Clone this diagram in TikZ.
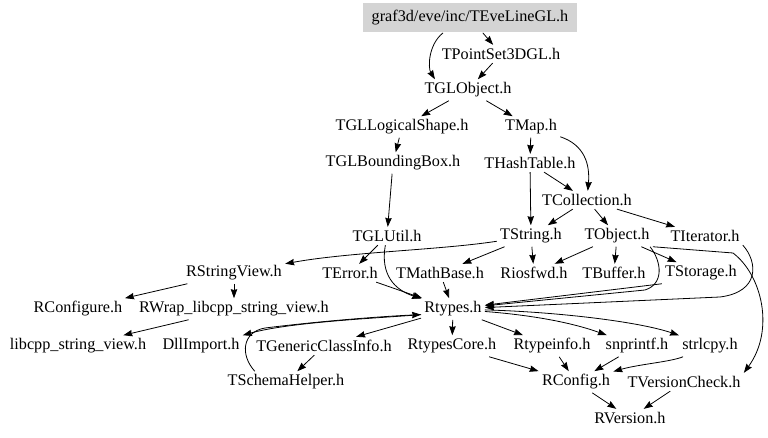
\documentclass[tikz,border=0pt]{standalone}
\usepackage{fontspec}
\setmainfont{Liberation Serif}
\usepackage{tikz}
\usetikzlibrary{arrows.meta,calc}

\begin{document}
\begin{tikzpicture}[
    x=0.5pt, y=-0.5pt,
    header/.style={inner sep=1.5pt, font=\fontsize{8.1}{9}\selectfont},
    mainfile/.style={header, fill=black!17, minimum width=107pt, minimum height=14.5pt},
    arrow/.style={-{Stealth[length=4.5pt,width=3.2pt,inset=0.4pt]}}
]
    \useasboundingbox (0,0) rectangle (768,438);

    % the file itself
    \node[mainfile] (tevelinegl) at (470,18) {graf3d/eve/inc/TEveLineGL.h};

    % included headers, row by row
    \node[header] (tpointset3dgl) at (501,54) {TPointSet3DGL.h};
    \node[header] (tglobject) at (468,90) {TGLObject.h};
    \node[header] (tgllogicalshape) at (402,127) {TGLLogicalShape.h};
    \node[header] (tmap) at (531,127) {TMap.h};
    \node[header] (tglboundingbox) at (393,163) {TGLBoundingBox.h};
    \node[header] (thashtable) at (530,163) {THashTable.h};
    \node[header] (tcollection) at (587,200) {TCollection.h};
    \node[header] (tglutil) at (387,236) {TGLUtil.h};
    \node[header] (tstring) at (531,236) {TString.h};
    \node[header] (tobject) at (617,236) {TObject.h};
    \node[header] (titerator) at (705,236) {TIterator.h};
    \node[header] (rstringview) at (234,273) {RStringView.h};
    \node[header] (terror) at (350,273) {TError.h};
    \node[header] (tmathbase) at (440,273) {TMathBase.h};
    \node[header] (riosfwd) at (534,273) {Riosfwd.h};
    \node[header] (tbuffer) at (614,273) {TBuffer.h};
    \node[header] (tstorage) at (701,273) {TStorage.h};
    \node[header] (rconfigure) at (78,309) {RConfigure.h};
    \node[header] (rwrap) at (234,309) {RWrap\_libcpp\_string\_view.h};
    \node[header] (rtypes) at (453,309) {Rtypes.h};
    \node[header] (libcpp) at (78,346) {libcpp\_string\_view.h};
    \node[header] (dllimport) at (201,346) {DllImport.h};
    \node[header] (tgenericclassinfo) at (324,346) {TGenericClassInfo.h};
    \node[header] (rtypescore) at (452,346) {RtypesCore.h};
    \node[header] (rtypeinfo) at (552,346) {Rtypeinfo.h};
    \node[header] (snprintf) at (637,346) {snprintf.h};
    \node[header] (strlcpy) at (710,346) {strlcpy.h};
    \node[header] (tschemahelper) at (286,382) {TSchemaHelper.h};
    \node[header] (rconfig) at (576,382) {RConfig.h};
    \node[header] (tversioncheck) at (684,382) {TVersionCheck.h};
    \node[header] (rversion) at (630,418) {RVersion.h};

    % GL part
    \draw[arrow] (tevelinegl) -- (tpointset3dgl);
    \draw[arrow] ($(tevelinegl.south)+(-27,0)$) .. controls (428,45) and (428,68) .. (tglobject.162);
    \draw[arrow] (tpointset3dgl) -- (tglobject);
    \draw[arrow] (tglobject) -- (tgllogicalshape);
    \draw[arrow] (tglobject) -- (tmap);
    \draw[arrow] (tgllogicalshape) -- (tglboundingbox);
    \draw[arrow] (tglboundingbox) -- (tglutil);
    \draw[arrow] (tglutil) -- (terror);
    \draw[arrow] (tglutil) .. controls (380,275) and (395,290) .. (rtypes);

    % containers
    \draw[arrow] (tmap) -- (thashtable);
    \draw[arrow] (tmap) .. controls (585,145) and (590,165) .. (tcollection);
    \draw[arrow] (thashtable) -- (tcollection);
    \draw[arrow] (thashtable) -- (tstring);
    \draw[arrow] (tcollection) -- (tstring);
    \draw[arrow] (tcollection) -- (tobject);
    \draw[arrow] (tcollection) -- (titerator);

    % TString
    \draw[arrow] (tstring) .. controls (440,250) and (350,252) .. (rstringview);
    \draw[arrow] (tstring) -- (tmathbase);
    \draw[arrow] (tstring) -- (riosfwd);
    \draw[arrow] (rstringview) -- (rconfigure);
    \draw[arrow] (rstringview) -- (rwrap);
    \draw[arrow] (rwrap) -- (libcpp);

    % TObject
    \draw[arrow] (tobject) -- (riosfwd);
    \draw[arrow] (tobject) -- (tbuffer);
    \draw[arrow] (tobject) -- (tstorage);
    \draw[arrow] (tobject.-18) .. controls (662,262) and (664,284) .. (645,290) -- (rtypes);
    \draw[arrow] (tobject.south east) -- (733,253) .. controls (762,275) and (775,330) .. (tversioncheck.north east);
    \draw[arrow] (tstorage.south west) -- (rtypes);
    \draw[arrow] (titerator.south east) .. controls (758,262) and (760,292) .. (720,297) -- (rtypes);

    % into Rtypes
    \draw[arrow] (terror) -- (rtypes);
    \draw[arrow] (tmathbase) -- (rtypes);
    \draw[arrow] (tschemahelper.161) .. controls (240,355) and (242,332) .. (265,328) .. controls (330,320) and (390,316) .. (rtypes.190);

    % out of Rtypes
    \draw[arrow] (rtypes.190) .. controls (380,318) and (290,322) .. (dllimport.north east);
    \draw[arrow] (rtypes) -- (tgenericclassinfo);
    \draw[arrow] (tgenericclassinfo) -- (tschemahelper);
    \draw[arrow] (rtypes) -- (rtypescore);
    \draw[arrow] (rtypes) -- (rtypeinfo);
    \draw[arrow] (rtypes) .. controls (530,315) and (570,322) .. (snprintf);
    \draw[arrow] (rtypes) .. controls (560,312) and (640,322) .. (strlcpy);

    % config
    \draw[arrow] (rtypescore) -- (rconfig);
    \draw[arrow] (rtypeinfo) -- (rconfig);
    \draw[arrow] (snprintf) -- (rconfig);
    \draw[arrow] (strlcpy) .. controls (670,362) and (640,364) .. (rconfig);
    \draw[arrow] (rconfig) -- (rversion);
    \draw[arrow] (tversioncheck) -- (rversion);
\end{tikzpicture}
\end{document}
